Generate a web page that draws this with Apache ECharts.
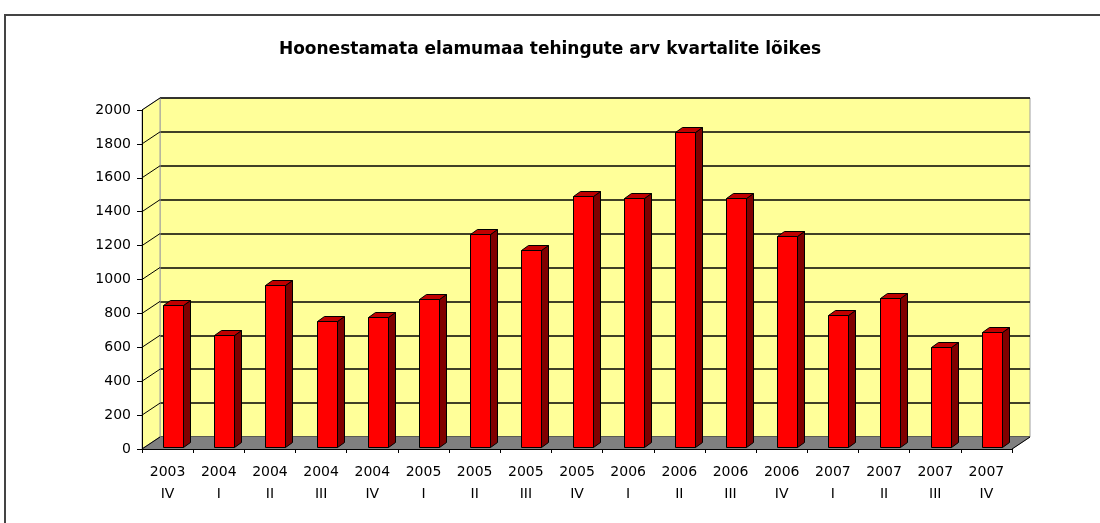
<!DOCTYPE html>
<html>
<head>
<meta charset="utf-8">
<script src="https://cdn.jsdelivr.net/npm/echarts@6/dist/echarts.min.js"></script>
<style>
  html, body { margin: 0; padding: 0; background: #fff; overflow: hidden; }
  #frame { position: absolute; left: 4px; top: 14px; width: 1200px; height: 600px; border: 2px solid #444; box-sizing: border-box; }
  #main { position: absolute; left: 0; top: 0; width: 1100px; height: 523px; }
</style>
</head>
<body>
<div id="frame"></div>
<div id="main"></div>
<script>
// kvartalid (aasta + kvartal)
const quarters = ['2003\nIV', '2004\nI', '2004\nII', '2004\nIII', '2004\nIV', '2005\nI', '2005\nII', '2005\nIII',
  '2005\nIV', '2006\nI', '2006\nII', '2006\nIII', '2006\nIV', '2007\nI', '2007\nII', '2007\nIII', '2007\nIV'];
// tehingute arv
const deals = [835, 659, 953, 741, 765, 871, 1259, 1165, 1482, 1471, 1859, 1471, 1247, 776, 882, 588, 676];
const yTicks = [0, 200, 400, 600, 800, 1000, 1200, 1400, 1600, 1800, 2000];

const depthX = 18, depthY = -12; // tagaseina nihe

let chartDom = document.getElementById('main');
let myChart = echarts.init(chartDom);

// külgsein, põrand ja diagonaalid
function renderWalls(params, api) {
  const cs = params.coordSys;
  const L = cs.x, R = cs.x + cs.width, T = cs.y, B = cs.y + cs.height;
  const children = [
    {
      type: 'polygon',
      shape: {points: [[L, T], [L + depthX, T + depthY], [L + depthX, B + depthY], [L, B]]},
      style: {fill: '#ffff99', stroke: '#a0a0a0', lineWidth: 1}
    },
    {
      type: 'polygon',
      shape: {points: [[L, B], [L + depthX, B + depthY], [R + depthX, B + depthY], [R, B]]},
      style: {fill: '#808080', stroke: '#808080', lineWidth: 1}
    },
    {
      type: 'line',
      shape: {x1: R, y1: B, x2: R + depthX, y2: B + depthY},
      style: {stroke: '#000', lineWidth: 1}
    }
  ];
  yTicks.forEach(function (v) {
    const p = api.coord([0, v]);
    children.push({
      type: 'line',
      shape: {x1: L, y1: p[1], x2: L + depthX, y2: p[1] + depthY},
      style: {stroke: '#000', lineWidth: 1}
    });
  });
  return {type: 'group', children: children};
}

// 3D tulp: esikülg, parem külg ja pealmine
function renderBar(params, api) {
  const base = api.coord([api.value(0), 0]);
  const top = api.coord([api.value(0), api.value(1)]);
  const w = 20, dx = 7, dy = -5;
  const x0 = Math.round(base[0] + 5.5 - w / 2) + 0.5, x1 = x0 + w;
  const yb = Math.round(base[1] - 2) + 0.5, yt = Math.round(top[1] - 2) + 0.5;
  return {
    type: 'group',
    children: [
      {
        type: 'polygon',
        shape: {points: [[x1, yt], [x1 + dx, yt + dy], [x1 + dx, yb + dy], [x1, yb]]},
        style: {fill: '#800000', stroke: '#000', lineWidth: 1}
      },
      {
        type: 'polygon',
        shape: {points: [[x0, yt], [x0 + dx, yt + dy], [x1 + dx, yt + dy], [x1, yt]]},
        style: {fill: '#c00000', stroke: '#000', lineWidth: 1}
      },
      {
        type: 'rect',
        shape: {x: x0, y: yt, width: w, height: yb - yt},
        style: {fill: '#ff0000', stroke: '#000', lineWidth: 1}
      }
    ]
  };
}

let option = {
  animation: false,
  title: {
    text: 'Hoonestamata elamumaa tehingute arv kvartalite lõikes',
    left: 'center',
    top: 36,
    textStyle: {fontFamily: 'DejaVu Sans', fontSize: 17, fontWeight: 'bold', color: '#000'}
  },
  grid: [
    {left: 142, top: 110, width: 870, height: 339},
    {left: 160, top: 98, width: 870, height: 339, show: true, backgroundColor: '#ffff99', borderColor: '#a0a0a0', borderWidth: 1}
  ],
  xAxis: [
    {
      type: 'category',
      gridIndex: 0,
      data: quarters,
      z: 5,
      axisLine: {lineStyle: {color: '#000', width: 1}},
      axisTick: {show: true, length: 4, lineStyle: {color: '#000'}},
      axisLabel: {interval: 0, margin: 12, fontFamily: 'DejaVu Sans', fontSize: 14, lineHeight: 22, color: '#000'}
    },
    {type: 'category', gridIndex: 1, data: quarters, show: false}
  ],
  yAxis: [
    {
      type: 'value',
      gridIndex: 0,
      min: 0,
      max: 2000,
      interval: 200,
      z: 5,
      axisLine: {show: true, lineStyle: {color: '#000', width: 1}},
      axisTick: {show: true, length: 5, lineStyle: {color: '#000'}},
      axisLabel: {
        margin: 11, fontFamily: 'DejaVu Sans', fontSize: 14, color: '#000',
        formatter: function (v) { return String(v); }
      },
      splitLine: {show: false}
    },
    {
      type: 'value',
      gridIndex: 1,
      min: 0,
      max: 2000,
      interval: 200,
      axisLine: {show: false},
      axisTick: {show: false},
      axisLabel: {show: false},
      splitLine: {show: true, lineStyle: {color: '#000', width: 1.5}}
    }
  ],
  series: [
    {
      type: 'custom',
      xAxisIndex: 0,
      yAxisIndex: 0,
      z: 1,
      silent: true,
      renderItem: renderWalls,
      data: [[0, 0]]
    },
    {
      type: 'custom',
      name: 'Tehingute arv',
      xAxisIndex: 0,
      yAxisIndex: 0,
      z: 3,
      renderItem: renderBar,
      data: deals.map(function (v, i) { return [i, v]; })
    }
  ]
};
option && myChart.setOption(option);
</script>
</body>
</html>
